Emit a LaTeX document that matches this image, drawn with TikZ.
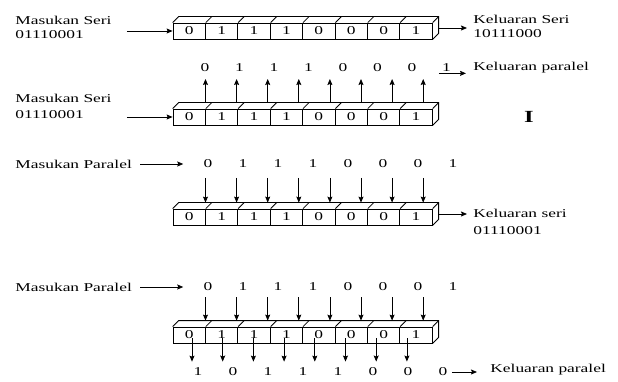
\documentclass[tikz,border=0pt]{standalone}
\usepackage{fontspec}
\setmainfont[FakeStretch=1.45]{Liberation Serif}
\usetikzlibrary{calc,arrows.meta}
\begin{document}
\begin{tikzpicture}[x=1pt,y=-1pt,>={Stealth[length=6pt,width=5pt,inset=1pt]},line width=0.8pt,
    every node/.style={font=\fontsize{12}{14}\selectfont,inner sep=0pt},
    cell/.style={draw,minimum width=32.4pt,minimum height=16pt},
    lbl/.style={anchor=west,align=left}]
    \useasboundingbox (0,0) rectangle (618,382);

    \foreach \r/\y in {a/31,b/117,c/217,d/335}{
        \foreach \b [count=\i] in {0,1,1,1,0,0,0,1}
            \node[cell] (\r\i) at ({156.8+32.4*\i},\y) {\b};
        \draw (\r1.north west) -- ++(6,-6) -| ([shift={(6,-6)}]\r8.south east) -- (\r8.south east);
        \draw (\r8.north east) -- ++(6,-6);
        \foreach \i in {1,...,7} \draw (\r\i.north east) -- ++(6,-6);
    }

    \node[lbl] (ms1) at (15,27) {Masukan Seri\\01110001};
    \node[lbl] (ms2) at (15,106) {Masukan Seri\\[2pt]01110001};
    \node[lbl] (mp1) at (15,164) {Masukan Paralel};
    \node[lbl] (mp2) at (15,287) {Masukan Paralel};
    \node[lbl] (ks1) at (473,26) {Keluaran Seri\\10111000};
    \node[lbl] (ks2) at (473,222) {Keluaran seri\\[3pt]01110001};
    \node[lbl] (kp1) at (473,68) {Keluaran paralel};
    \node[lbl] (kp2) at (490,370) {Keluaran paralel};
    \node[font=\fontsize{17}{17}\selectfont] (bar) at (529,117) {\textbf{I}};

    \foreach \b [count=\i] in {0,1,1,1,0,0,0,1}{
        \node (u\i) at ({170.5+34.5*\i},68) {\b};
        \node (v\i) at ({173+35*\i},164) {\b};
        \node (w\i) at ({173+35*\i},287) {\b};
    }
    \foreach \b [count=\i] in {1,0,1,1,1,0,0,0}
        \node (z\i) at ({163+35*\i},372) {\b};

    \foreach \i in {1,...,8}{
        \coordinate (p\i) at ({174.4+31.1*\i},79);
        \coordinate (q\i) at ({174.4+31.1*\i},178);
        \coordinate (s\i) at ({174.4+31.1*\i},297);
        \coordinate (t\i) at ({161.3+30.7*\i},338);
        \draw[->] ($(p\i |- b\i.north)+(0,-6)$) -- (p\i);
        \draw[->] (q\i) -- ($(q\i |- c\i.north)+(0,-6)$);
        \draw[->] (s\i) -- ($(s\i |- d\i.north)+(0,-6)$);
        \draw[->] (t\i) -- ($(t\i |- z\i.north)+(0,-6)$);
    }

    \draw[->] ($(ms1.east |- a1.west)+(15,0)$) -- (a1.west);
    \draw[->] ($(ms2.east |- b1.west)+(15,0)$) -- (b1.west);
    \draw[->] ([xshift=8pt]mp1.east) -- ([xshift=-20pt]v1.west);
    \draw[->] ([xshift=8pt]mp2.east) -- ([xshift=-20pt]w1.west);
    \draw[->] ([shift={(6,-3)}]a8.east) -- ($(a8.east -| ks1.west)+(-6,-3)$);
    \draw[->] ([shift={(6,-3)}]c8.east) -- ($(c8.east -| ks2.west)+(-6,-3)$);
    \draw[->] ($(u8.south west)+(-3,1)$) -- ($(u8.south -| kp1.west)+(-7,1)$);
    \draw[->] ($(z8.east)+(4,0)$) -- ($(z8.east -| kp2.west)+(-13,0)$);
\end{tikzpicture}
\end{document}
